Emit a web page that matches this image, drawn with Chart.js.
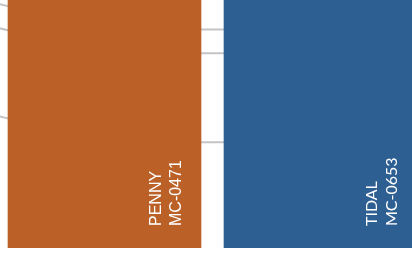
<!DOCTYPE html>
<html>
<head>
<meta charset="utf-8">
<script src="https://cdn.jsdelivr.net/npm/chart.js@4"></script>
<style>
    html, body { margin: 0; padding: 0; background: #ffffff; overflow: hidden; }
    #chart { display: block; }
</style>
</head>
<body>
<canvas id="chart" width="412" height="258"></canvas>
<script>
// bars (both run off the top of the crop)
const barPositions = [0, 1];
const barNames = ["PENNY", "TIDAL"];
const barIds = ["MC-0471", "MC-0653"];
const barValues = [118, 114];
const barColors = ["#BB6127", "#2E5F93"];
const labelFonts = ["'Liberation Sans', Arial, sans-serif", "Lato, sans-serif"];

// gray reference lines behind the bars
const linePositions = [-1, 0, 1, 2];
const lineA = [109.2, 88.1, 88.1, 88.1];
const lineB = [99.3, 78.5, 78.5, 78.5];
const lineC = [64.2, 42.6, 42.6, 42.6];

function toPoints(xs, ys) {
    return xs.map((x, i) => ({ x: x, y: ys[i] }));
}

function lineDataset(values) {
    return {
        type: "line",
        data: toPoints(linePositions, values),
        borderColor: "#c4c4c4",
        borderWidth: 2,
        pointRadius: 0,
        tension: 0,
        order: 2
    };
}

const barLabels = {
    id: "barLabels",
    afterDatasetsDraw(chart) {
        const ctx = chart.ctx;
        const meta = chart.getDatasetMeta(0);
        meta.data.forEach((bar, i) => {
            const right = bar.x + bar.width / 2;
            const bottom = bar.base - 22;
            ctx.save();
            ctx.fillStyle = "#ffffff";
            ctx.font = "16px " + labelFonts[i];
            ctx.textAlign = "left";
            ctx.textBaseline = "alphabetic";
            ctx.translate(right - 40, bottom);
            ctx.rotate(-Math.PI / 2);
            ctx.fillText(barNames[i], 0, 0);
            ctx.fillText(barIds[i], 0, 20);
            ctx.restore();
        });
    }
};

new Chart(document.getElementById("chart"), {
    type: "bar",
    data: {
        datasets: [
            {
                data: toPoints(barPositions, barValues),
                backgroundColor: barColors,
                barThickness: 193,
                order: 1
            },
            lineDataset(lineA),
            lineDataset(lineB),
            lineDataset(lineC)
        ]
    },
    options: {
        responsive: false,
        animation: false,
        devicePixelRatio: 1,
        layout: { padding: { left: 0, right: 0, top: 0, bottom: 10 } },
        plugins: {
            legend: { display: false },
            tooltip: { enabled: false }
        },
        scales: {
            x: {
                type: "linear",
                display: false,
                offset: false,
                grid: { offset: false },
                min: -0.4838,
                max: 1.4236
            },
            y: {
                display: false,
                min: 0,
                max: 100
            }
        }
    },
    plugins: [barLabels]
});
</script>
</body>
</html>
